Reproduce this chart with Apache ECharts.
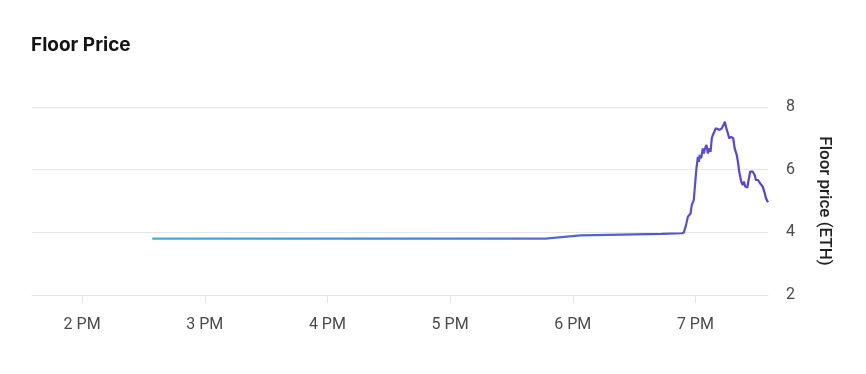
<!DOCTYPE html>
<html>
<head>
<meta charset="utf-8">
<script src="https://cdn.jsdelivr.net/npm/echarts@6/dist/echarts.min.js"></script>
<style>
html,body{margin:0;padding:0;background:#fff;}
#chart{width:866px;height:374px;}
</style>
</head>
<body>
<div id="chart"></div>
<script>
// Time of each sample (HH:MM:SS) and floor price in ETH
var times = [
  "14:34:20","15:00:00","15:30:00","16:00:00","16:30:00","17:00:00","17:30:00","17:46:36",
  "17:54:30","18:03:48","18:23:54","18:43:30","18:53:18","18:54:18",
  "18:55:24","18:56:18","18:57:36","18:58:12","18:59:12","18:59:48","19:00:30","19:01:12",
  "19:01:42","19:02:06","19:02:48","19:03:36","19:04:06","19:04:42","19:05:24","19:06:06",
  "19:06:54","19:07:24","19:08:00","19:08:30","19:09:24","19:10:00","19:11:48","19:12:54",
  "19:13:54","19:14:24","19:15:12","19:15:54","19:16:30","19:17:30","19:18:30","19:19:12",
  "19:20:12","19:20:48","19:21:24","19:22:24","19:23:06","19:23:42","19:24:24","19:25:24",
  "19:26:00","19:26:48","19:28:00","19:29:00","19:29:36","19:30:36","19:31:42","19:32:54",
  "19:33:54","19:34:30","19:35:30"
];
var floorPrice = [
  3.80,3.80,3.80,3.80,3.80,3.80,3.80,3.80,
  3.85,3.90,3.93,3.95,3.97,3.99,
  4.23,4.50,4.60,4.87,5.03,5.51,6.04,6.41,
  6.25,6.47,6.36,6.68,6.52,6.68,6.79,6.52,
  6.68,6.57,7.00,7.10,7.16,7.32,7.27,7.32,
  7.45,7.53,7.30,7.16,7.00,7.05,7.00,6.68,
  6.47,6.25,5.94,5.62,5.51,5.62,5.46,5.43,
  5.67,5.94,5.94,5.83,5.67,5.67,5.56,5.46,
  5.25,5.09,4.96
];
var hourTicks = [14, 15, 16, 17, 18, 19];
var hourLabels = ["2 PM", "3 PM", "4 PM", "5 PM", "6 PM", "7 PM"];
var yTicks = [2, 4, 6, 8];

function toMin(s) {
  var p = s.split(":");
  return (+p[0]) * 60 + (+p[1]) + (+p[2]) / 60;
}
var seriesData = times.map(function (t, i) { return [toMin(t), floorPrice[i]]; });
var xMax = toMin(times[times.length - 1]);
var xMin = xMax - 6 * 60;
var tickMinutes = hourTicks.map(function (h) { return h * 60; });

var chart = echarts.init(document.getElementById('chart'));
chart.setOption({
  animation: false,
  backgroundColor: '#fff',
  title: {
    text: 'Floor Price',
    left: 26, top: 31,
    textStyle: { fontFamily: 'Inter', fontSize: 19, fontWeight: 700, color: '#141414' }
  },
  grid: { left: 32, right: 98, top: 107, bottom: 79 },
  xAxis: {
    type: 'value',
    min: xMin, max: xMax,
    axisLine: { show: true, lineStyle: { color: '#e3e3e3', width: 1 } },
    axisTick: { show: true, length: 8, lineStyle: { color: '#e3e3e3' }, customValues: tickMinutes },
    splitLine: { show: false },
    axisLabel: {
      customValues: tickMinutes,
      margin: 22,
      color: '#4a4a4a',
      fontFamily: 'Roboto',
      fontSize: 16,
      formatter: function (v) {
        var idx = tickMinutes.indexOf(v);
        return idx >= 0 ? hourLabels[idx] : '';
      }
    }
  },
  yAxis: {
    type: 'value',
    position: 'right',
    min: yTicks[0], max: yTicks[yTicks.length - 1], interval: 2,
    name: 'Floor price (ETH)',
    nameLocation: 'middle',
    nameRotate: -90,
    nameGap: 48,
    nameTextStyle: { fontFamily: 'Roboto', fontSize: 17, fontWeight: 500, color: '#222' },
    axisLine: { show: false },
    axisTick: { show: false },
    splitLine: { show: true, lineStyle: { color: '#e6e6e6', width: 1 } },
    axisLabel: { margin: 18, color: '#4a4a4a', fontFamily: 'Roboto', fontSize: 16 }
  },
  series: [{
    type: 'line',
    data: seriesData,
    showSymbol: false,
    smooth: false,
    lineStyle: {
      width: 2.2,
      color: new echarts.graphic.LinearGradient(0, 0, 1, 0, [
        { offset: 0, color: '#40aedb' },
        { offset: 0.5, color: '#4a7fcf' },
        { offset: 1, color: '#5a3ed6' }
      ])
    }
  }]
});
</script>
</body>
</html>
